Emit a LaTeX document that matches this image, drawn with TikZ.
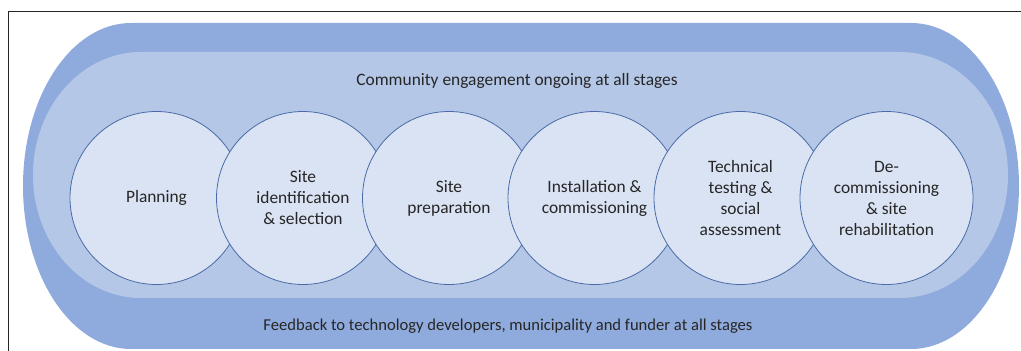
\documentclass[tikz,border=0pt]{standalone}
\usepackage{fontspec}
\setmainfont{Carlito}
\definecolor{outerband}{HTML}{8FAADC}
\definecolor{innerband}{HTML}{B4C7E7}
\definecolor{stagefill}{HTML}{DAE3F3}
\definecolor{stageline}{HTML}{4A6BA8}
\definecolor{txt}{HTML}{262626}
\tikzset{
  stagebox/.style={circle, draw=stageline, line width=0.8pt, fill=stagefill,
    minimum size=173pt, inner sep=0pt, align=center, text=txt,
    font=\fontsize{17.4}{21}\selectfont},
  bandtext/.style={text=txt, font=\fontsize{17.4}{21}\selectfont, inner sep=0pt},
  framestroke/.style={draw=black!85, line width=1pt}
}
\begin{document}
\begin{tikzpicture}[x=1pt,y=1pt]
\useasboundingbox (0,0) rectangle (1021,351);
% frame
\coordinate (fc) at (8,339);
\coordinate (fr) at (1021,339);
\coordinate (fb) at (8,0);
\draw[framestroke] (fr) -- (fc) -- (fb);
% outer band
\fill[outerband] (131,328) -- (911,328)
  arc[start angle=90, end angle=-90, x radius=108, y radius=163]
  -- (131,2)
  arc[start angle=270, end angle=90, x radius=108, y radius=163] -- cycle;
% inner band
\fill[innerband] (141,299) -- (900,299)
  arc[start angle=90, end angle=-90, x radius=108, y radius=123]
  -- (141,53)
  arc[start angle=270, end angle=90, x radius=108, y radius=123] -- cycle;
% band texts
\node[bandtext] (top) at (517,270) {Community engagement ongoing at all stages};
\node[bandtext, font=\fontsize{16.6}{20}\selectfont] (bottom) at (508,25) {Feedback to technology developers, municipality and funder at all stages};
% stages
\node[stagebox] (s1) at (156.5,153) {Planning};
\node[stagebox] (s2) at (303,153) {Site\\identification\\\& selection};
\node[stagebox] (s3) at (449,153) {Site\\preparation};
\node[stagebox] (s4) at (594.5,153) {Installation \&\\commissioning};
\node[stagebox] (s5) at (740.5,153) {Technical\\testing \&\\social\\assessment};
\node[stagebox] (s6) at (886.5,153) {De-\\commissioning\\\& site\\rehabilitation};
\end{tikzpicture}
\end{document}
